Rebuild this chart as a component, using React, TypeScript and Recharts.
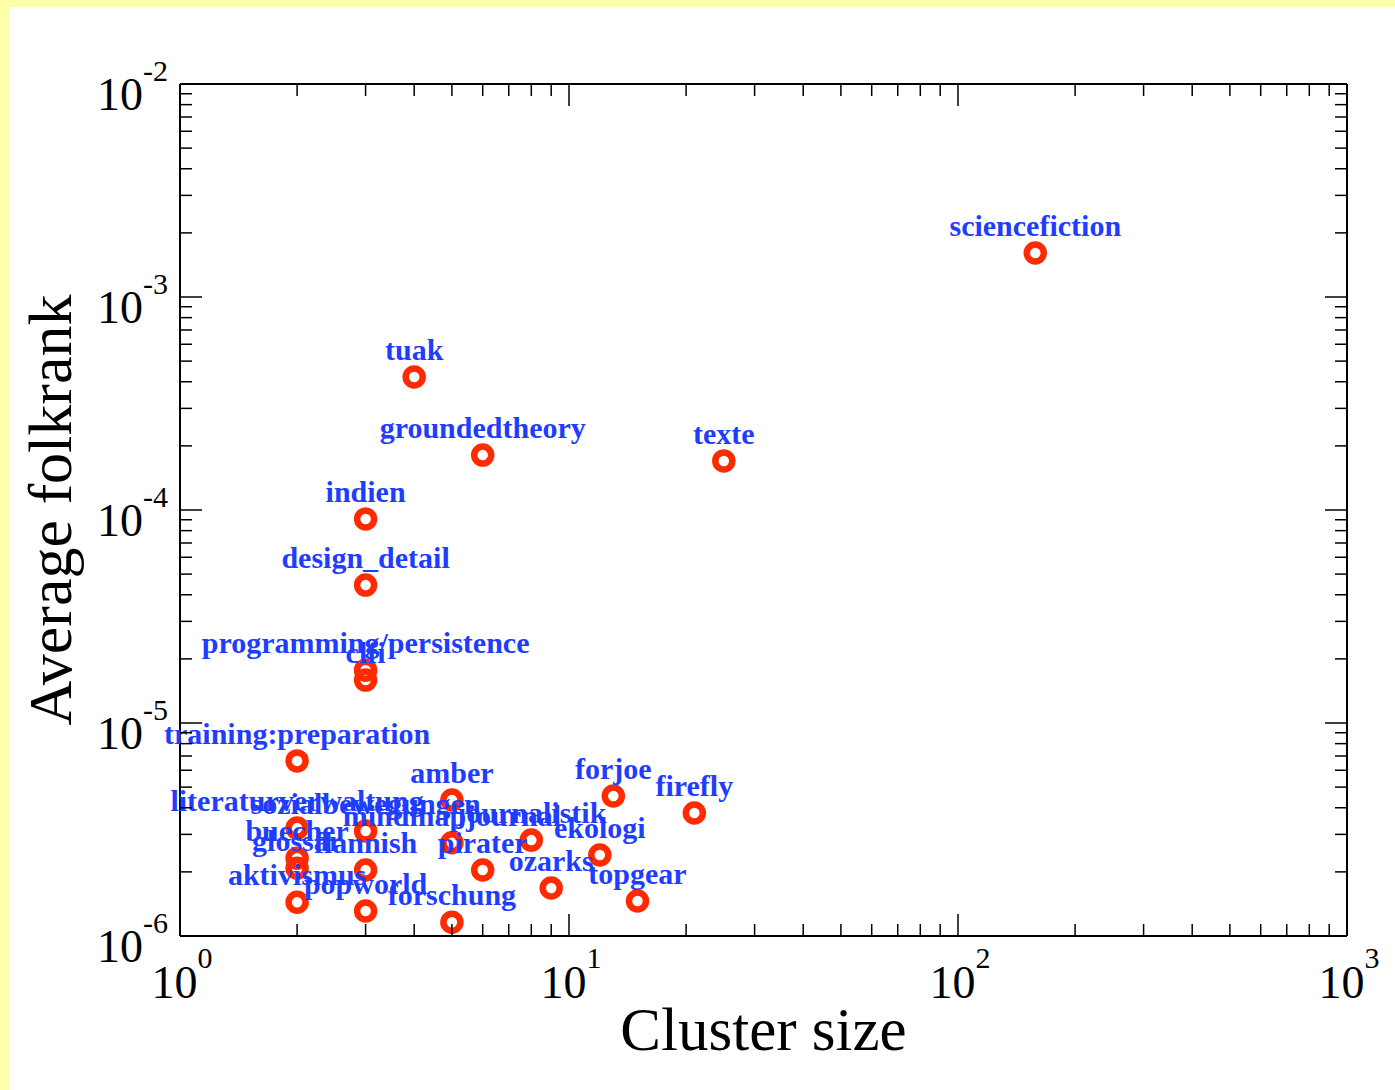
import React from "react";
import { ScatterChart, Scatter, XAxis, YAxis, Label } from "recharts";

// cluster labels, sizes and average folkrank
const clusterNames = [
    "sciencefiction", "tuak", "groundedtheory", "texte", "indien", "design_detail",
    "programming/persistence", "clfi", "training:preparation", "amber", "forjoe", "firefly",
    "literaturverwaltung", "sozialbewegungen", "journalistik", "mindmapjournal", "ekologi",
    "buecher", "glossar", "flannish", "pirater", "ozarks", "topgear", "aktivismus",
    "popworld", "forschung",
];
const clusterSizes = [158, 4, 6, 25, 3, 3, 3, 3, 2, 5, 13, 21, 2, 3, 8, 5, 12, 2, 2, 3, 6, 9, 15, 2, 3, 5];
const avgFolkrank = [
    1.61e-3, 4.21e-4, 1.81e-4, 1.7e-4, 9.07e-5, 4.44e-5,
    1.77e-5, 1.59e-5, 6.64e-6, 4.35e-6, 4.54e-6, 3.78e-6,
    3.21e-6, 3.11e-6, 2.82e-6, 2.74e-6, 2.4e-6,
    2.32e-6, 2.08e-6, 2.04e-6, 2.04e-6, 1.68e-6, 1.46e-6, 1.44e-6,
    1.31e-6, 1.16e-6,
];

const xDecades = [1, 10, 100];
const yDecades = [1e-6, 1e-5, 1e-4, 1e-3];
const xDomain = [1, 1000];
const yDomain = [1e-6, 1e-2];

const logTicks = (decades: number[], last: number) => {
    const out: number[] = [];
    decades.forEach((d) => {
        for (let m = 1; m < 10; m++) out.push(d * m);
    });
    out.push(last);
    return out;
};
const xTicks = logTicks(xDecades, 1000);
const yTicks = logTicks(yDecades, 1e-2);

const points = clusterNames.map((name, i) => ({ name, size: clusterSizes[i], rank: avgFolkrank[i] }));

const SERIF = "'Liberation Serif', 'Times New Roman', Times, serif";
const RED = "#ff2a00";
const BLUE = "#1f3dff";
const MAJOR = 22;
const MINOR = 12;

const isMajor = (v: number) => Math.abs(Math.log10(v) - Math.round(Math.log10(v))) < 1e-6;
const expOf = (v: number) => String(Math.round(Math.log10(v)));

const BottomTick = (props: any) => {
    const { x, y, payload } = props;
    const major = isMajor(payload.value);
    return (
        <g>
            <line x1={x} y1={y} x2={x} y2={y - (major ? MAJOR : MINOR)} stroke="#000" strokeWidth={1.5} />
            {major && (
                <text x={x + 2} y={y + 62} textAnchor="middle" fontFamily={SERIF} fontSize={46} fill="#000">
                    10<tspan dy={-30} fontSize={30}>{expOf(payload.value)}</tspan>
                </text>
            )}
        </g>
    );
};

const TopTick = (props: any) => {
    const { x, y, payload } = props;
    const major = isMajor(payload.value);
    return <line x1={x} y1={y} x2={x} y2={y + (major ? MAJOR : MINOR)} stroke="#000" strokeWidth={1.5} />;
};

const LeftTick = (props: any) => {
    const { x, y, payload } = props;
    const major = isMajor(payload.value);
    return (
        <g>
            <line x1={x} y1={y} x2={x + (major ? MAJOR : MINOR)} y2={y} stroke="#000" strokeWidth={1.5} />
            {major && (
                <text x={x - 12} y={y + 26} textAnchor="end" fontFamily={SERIF} fontSize={46} fill="#000">
                    10<tspan dy={-29} fontSize={30}>{expOf(payload.value)}</tspan>
                </text>
            )}
        </g>
    );
};

const RightTick = (props: any) => {
    const { x, y, payload } = props;
    const major = isMajor(payload.value);
    return <line x1={x} y1={y} x2={x - (major ? MAJOR : MINOR)} y2={y} stroke="#000" strokeWidth={1.5} />;
};

const Ring = (props: any) => (
    <circle cx={props.cx} cy={props.cy} r={8.5} fill="none" stroke={RED} strokeWidth={6.5} />
);

const Tag = (props: any) => (
    <text x={props.cx} y={props.cy - 17} textAnchor="middle" fontFamily={SERIF} fontWeight="bold" fontSize={30} fill={BLUE}>
        {props.payload.name}
    </text>
);

const XTitle = (props: any) => {
    const { x, y, width } = props.viewBox;
    return (
        <text x={x + width / 2} y={y + 114} textAnchor="middle" fontFamily={SERIF} fontSize={61} fill="#000">
            Cluster size
        </text>
    );
};

const YTitle = (props: any) => {
    const { x, y, height } = props.viewBox;
    const cx = x + 1;
    const cy = y + height / 2;
    return (
        <text x={cx} y={cy} transform={`rotate(-90 ${cx} ${cy})`} textAnchor="middle" fontFamily={SERIF} fontSize={62} fill="#000">
            Average folkrank
        </text>
    );
};

export default function App() {
    return (
        <div style={{ position: "absolute", left: 0, top: 0, width: 1395, height: 1090, background: "#ffffaa" }}>
            <div style={{ position: "absolute", left: 10, top: 7, width: 1385, height: 1083, background: "#fff" }}>
                <ScatterChart width={1385} height={1083} margin={{ top: 67, right: 38, bottom: 40, left: 60 }}>
                    <XAxis
                        dataKey="size" type="number" scale="log" domain={xDomain}
                        ticks={xTicks} interval={0} tick={<BottomTick />} tickLine={false} tickSize={0} tickMargin={0}
                        height={114} axisLine={{ stroke: "#000", strokeWidth: 2 }}
                    >
                        <Label content={<XTitle />} />
                    </XAxis>
                    <XAxis
                        xAxisId="top" orientation="top" dataKey="size" type="number" scale="log" domain={xDomain} allowDataOverflow
                        ticks={xTicks} interval={0} tick={<TopTick />} tickLine={false} tickSize={0} tickMargin={0}
                        height={10} axisLine={{ stroke: "#000", strokeWidth: 2 }}
                    />
                    <YAxis
                        dataKey="rank" type="number" scale="log" domain={yDomain}
                        ticks={yTicks} interval={0} tick={<LeftTick />} tickLine={false} tickSize={0} tickMargin={0}
                        width={110} axisLine={{ stroke: "#000", strokeWidth: 2 }}
                    >
                        <Label content={<YTitle />} />
                    </YAxis>
                    <YAxis
                        yAxisId="right" orientation="right" dataKey="rank" type="number" scale="log" domain={yDomain} allowDataOverflow
                        ticks={yTicks} interval={0} tick={<RightTick />} tickLine={false} tickSize={0} tickMargin={0}
                        width={10} axisLine={{ stroke: "#000", strokeWidth: 2 }}
                    />
                    <Scatter data={points} shape={<Ring />} isAnimationActive={false} />
                    <Scatter data={points} shape={<Tag />} isAnimationActive={false} />
                </ScatterChart>
            </div>
        </div>
    );
}
